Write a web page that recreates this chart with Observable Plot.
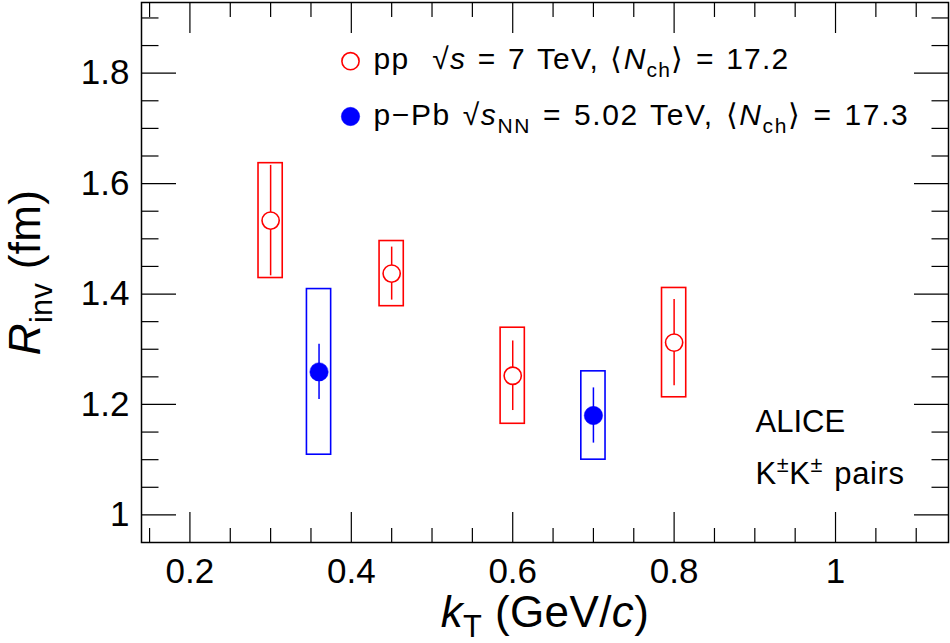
<!DOCTYPE html>
<html><head><meta charset="utf-8">
<script src="https://cdn.jsdelivr.net/npm/d3@7"></script>
<script src="https://cdn.jsdelivr.net/npm/@observablehq/plot@0.6"></script>
<style>
html,body{margin:0;padding:0;background:#fff;}
#chart{width:950px;height:643px;overflow:hidden;}
</style>
</head><body><div id="chart"></div>
<script>
// ---- data ----
const ppKt   = [0.30, 0.45, 0.60, 0.80];
const ppR    = [1.533, 1.437, 1.252, 1.312];
const ppStat = [0.100, 0.048, 0.063, 0.078];
const ppSys  = [0.104, 0.059, 0.087, 0.099];

const pPbKt   = [0.36, 0.70];
const pPbR    = [1.259, 1.180];
const pPbStat = [0.050, 0.050];
const pPbSys  = [0.150, 0.080];

const xMajor = [0.2, 0.4, 0.6, 0.8, 1.0];
const xTickLabels = ["0.2", "0.4", "0.6", "0.8", "1"];
const xMinor = [0.15, 0.25, 0.3, 0.35, 0.45, 0.5, 0.55, 0.65, 0.7, 0.75, 0.85, 0.9, 0.95, 1.05, 1.1];
const yMajor = [1.0, 1.2, 1.4, 1.6, 1.8];
const yTickLabels = ["1", "1.2", "1.4", "1.6", "1.8"];
const yMinor = [1.05, 1.1, 1.15, 1.25, 1.3, 1.35, 1.45, 1.5, 1.55, 1.65, 1.7, 1.75, 1.85, 1.9];

const legendLabels = ["pp_label", "ppb_label"];
const annotLabels = ["ALICE", "KK_pairs"];

// ---- build tables ----
const pp  = ppKt.map((k, i) => ({kt: k, r: ppR[i], stat: ppStat[i], sys: ppSys[i]}));
const pPb = pPbKt.map((k, i) => ({kt: k, r: pPbR[i], stat: pPbStat[i], sys: pPbSys[i]}));

const RED = "#ff0000", BLUE = "#0000ff";
const HW = 0.015; // half width of systematic boxes (kT units)
const FONT = "'Liberation Sans', Arial, Helvetica, sans-serif";

const plot = Plot.plot({
  width: 950,
  height: 643,
  marginLeft: 141,
  marginRight: 2,
  marginTop: 2,
  marginBottom: 101,
  style: {fontFamily: FONT, background: "white", color: "black"},
  x: {domain: [0.14, 1.14], label: null},
  y: {domain: [0.95, 1.928], label: null},
  marks: [
    // ticks (inward, on all four sides)
    Plot.axisX({ticks: xMajor, anchor: "bottom", tickSize: -30, tickFormat: () => "", label: null, strokeWidth: 1.2}),
    Plot.axisX({ticks: xMinor, anchor: "bottom", tickSize: -14, tickFormat: () => "", label: null, strokeWidth: 1.2}),
    Plot.axisX({ticks: xMajor, anchor: "top", tickSize: -30, tickFormat: () => "", label: null, strokeWidth: 1.2}),
    Plot.axisX({ticks: xMinor, anchor: "top", tickSize: -14, tickFormat: () => "", label: null, strokeWidth: 1.2}),
    Plot.axisY({ticks: yMajor, anchor: "left", tickSize: -35, tickFormat: () => "", label: null, strokeWidth: 1.2}),
    Plot.axisY({ticks: yMinor, anchor: "left", tickSize: -17.5, tickFormat: () => "", label: null, strokeWidth: 1.2}),
    Plot.axisY({ticks: yMajor, anchor: "right", tickSize: -35, tickFormat: () => "", label: null, strokeWidth: 1.2}),
    Plot.axisY({ticks: yMinor, anchor: "right", tickSize: -17.5, tickFormat: () => "", label: null, strokeWidth: 1.2}),
    // tick labels
    Plot.axisX({ticks: xMajor, anchor: "bottom", tickSize: 0, tickPadding: 16, fontSize: 35,
      tickFormat: d => xTickLabels[xMajor.indexOf(d)], label: null}),
    Plot.axisY({ticks: yMajor, anchor: "left", tickSize: 0, tickPadding: 12, fontSize: 35,
      tickFormat: d => yTickLabels[yMajor.indexOf(d)], label: null}),
    Plot.frame({stroke: "black", strokeWidth: 1.5}),

    // systematic boxes
    Plot.rect(pp,  {x1: d => d.kt - HW, x2: d => d.kt + HW, y1: d => d.r - d.sys, y2: d => d.r + d.sys,
      fill: "none", stroke: RED, strokeWidth: 1.6}),
    Plot.rect(pPb, {x1: d => d.kt - HW, x2: d => d.kt + HW, y1: d => d.r - d.sys, y2: d => d.r + d.sys,
      fill: "none", stroke: BLUE, strokeWidth: 1.6}),
    // statistical errors
    Plot.ruleX(pp,  {x: "kt", y1: d => d.r - d.stat, y2: d => d.r + d.stat, stroke: RED, strokeWidth: 1.5}),
    Plot.ruleX(pPb, {x: "kt", y1: d => d.r - d.stat, y2: d => d.r + d.stat, stroke: BLUE, strokeWidth: 1.5}),
    // markers
    Plot.dot(pp,  {x: "kt", y: "r", r: 8.6, fill: "white", stroke: RED, strokeWidth: 1.6}),
    Plot.dot(pPb, {x: "kt", y: "r", r: 9.2, fill: BLUE, stroke: BLUE, strokeWidth: 0.5}),

    // legend
    Plot.dot([0], {frameAnchor: "top-left", dx: 209, dy: 58.7, r: 8.6, fill: "white", stroke: RED, strokeWidth: 1.6}),
    Plot.dot([0], {frameAnchor: "top-left", dx: 209, dy: 114, r: 9.2, fill: BLUE, stroke: BLUE, strokeWidth: 0.5}),
    Plot.text([legendLabels[0]], {text: d => d, frameAnchor: "top-left", dx: 232, dy: 56.8,
      textAnchor: "start", lineAnchor: "middle", fontSize: 30, fill: "black"}),
    Plot.text([legendLabels[1]], {text: d => d, frameAnchor: "top-left", dx: 232, dy: 112.8,
      textAnchor: "start", lineAnchor: "middle", fontSize: 30, fill: "black"}),

    // annotations
    Plot.text([annotLabels[0]], {text: d => d, frameAnchor: "top-left", dx: 614, dy: 420,
      textAnchor: "start", lineAnchor: "middle", fontSize: 31, fill: "black"}),
    Plot.text([annotLabels[1]], {text: d => d, frameAnchor: "top-left", dx: 614, dy: 471.5,
      textAnchor: "start", lineAnchor: "middle", fontSize: 31, fill: "black"}),

    // axis titles
    Plot.text(["xtitle"], {text: d => d, frameAnchor: "bottom", dx: 0, dy: 70,
      textAnchor: "middle", lineAnchor: "middle", fontSize: 44, fill: "black"}),
    Plot.text(["ytitle"], {text: d => d, frameAnchor: "left", dx: -116, dy: 0, rotate: -90,
      textAnchor: "middle", lineAnchor: "middle", fontSize: 44, fill: "black"})
  ]
});

document.getElementById("chart").appendChild(plot);

// ---- rich text (italics, sub/superscripts) ----
const svg = d3.select(plot.tagName.toLowerCase() === "svg" ? plot : plot.querySelector("svg"));
const rich = {
  "pp_label": {ls: 1.2, ws: 2, segs: ["pp  ", "\u221A", {t: "s", i: 1}, " = 7 TeV, \u27E8", {t: "N", i: 1}, {t: "ch", sub: 1}, "\u27E9 = 17.2"]},
  "ppb_label": {ls: 1.6, ws: 2, segs: ["p\u2212Pb ", "\u221A", {t: "s", i: 1}, {t: "NN", sub: 1}, " = 5.02 TeV, \u27E8", {t: "N", i: 1}, {t: "ch", sub: 1}, "\u27E9 = 17.3"]},
  "ALICE": {ls: 0, ws: 0, segs: ["ALICE"]},
  "KK_pairs": {ls: 0.6, ws: 2, segs: ["K", {t: "\u00B1", sup: 1}, "K", {t: "\u00B1", sup: 1}, " pairs"]},
  "xtitle": {ls: 0.4, ws: 0, segs: [{t: "k", i: 1}, {t: "T", sub: 1, sh: 0.24}, " (GeV/", {t: "c", i: 1}, ")"]},
  "ytitle": {ls: 0.3, ws: 1, segs: [{t: "R", i: 1}, {t: "inv", sub: 1}, " (fm)"]}
};
svg.selectAll("text").each(function() {
  const key = this.textContent;
  if (!(key in rich)) return;
  const spec = rich[key];
  const t = d3.select(this);
  const fs = parseFloat(getComputedStyle(this).fontSize);
  t.text(null);
  if (spec.ls) t.attr("letter-spacing", spec.ls);
  if (spec.ws) t.attr("word-spacing", spec.ws);
  let shift = 0;
  for (const s of spec.segs) {
    const seg = typeof s === "string" ? {t: s} : s;
    const ts = t.append("tspan").text(seg.t);
    const target = seg.sub ? (seg.sh || 0.28) * fs : seg.sup ? -0.38 * fs : 0;
    if (target !== shift) { ts.attr("dy", target - shift); shift = target; }
    if (seg.sub || seg.sup) ts.attr("font-size", 0.7 * fs);
    if (seg.i) ts.attr("font-style", "italic");
  }
});
</script>
</body></html>
